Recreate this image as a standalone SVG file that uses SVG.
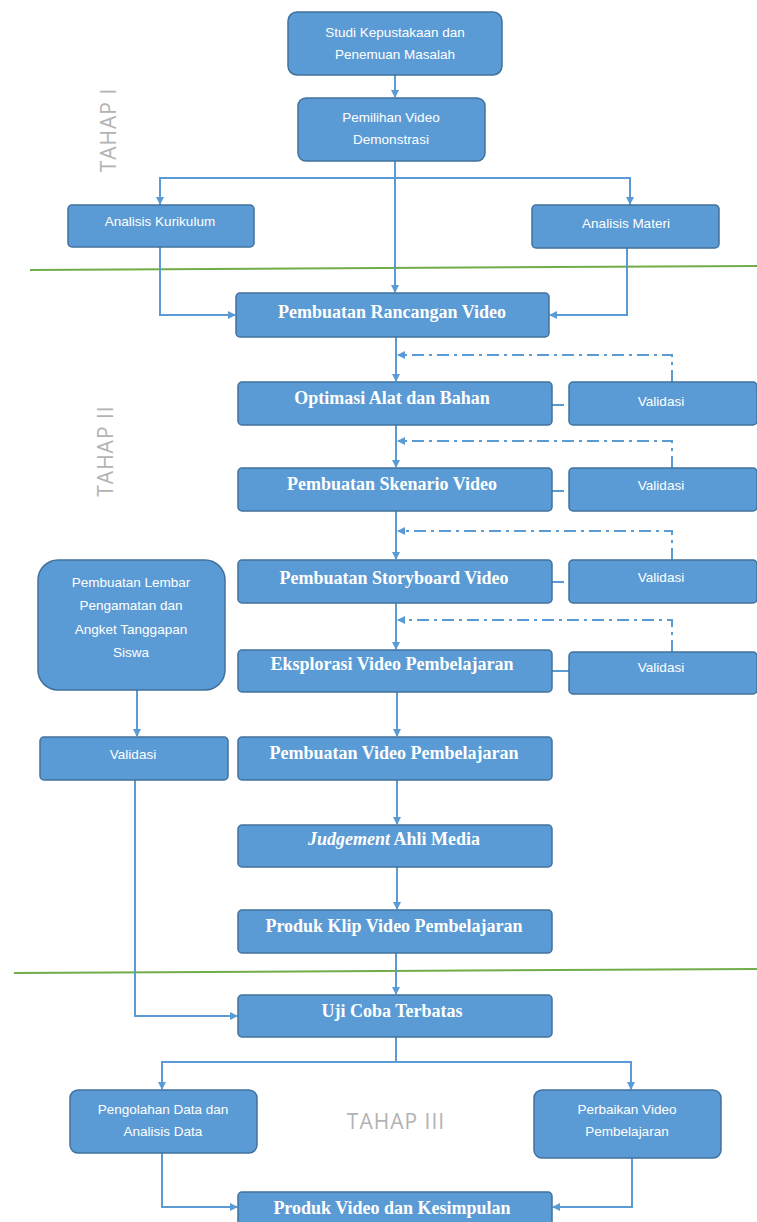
<svg xmlns="http://www.w3.org/2000/svg" width="757" height="1222" viewBox="0 0 757 1222">
<style>
.n{fill:#5b9bd5;stroke:#41719c;stroke-width:1.5}
.s{font-family:"Liberation Sans",Arial,sans-serif;font-size:13.5px;fill:#fff;text-anchor:middle}
.b{font-family:"Liberation Serif","Times New Roman",serif;font-size:18px;font-weight:bold;fill:#fff;text-anchor:middle}
.c{fill:none;stroke:#5b9bd5;stroke-width:2}
.d{fill:none;stroke:#5b9bd5;stroke-width:2;stroke-dasharray:12 5 3 5}
.g{fill:none;stroke:#70ad47;stroke-width:2}
.t{font-family:"Open Sans","Liberation Sans",sans-serif;font-size:21px;fill:#b3b3b3;text-anchor:middle;letter-spacing:1px}
</style>
<defs>
<marker id="a" markerWidth="8" markerHeight="8" refX="7" refY="4" orient="auto" markerUnits="userSpaceOnUse">
<path d="M0,0 L8,4 L0,8 Z" fill="#5b9bd5"/>
</marker>
</defs>
<rect width="757" height="1222" fill="#fff"/>
<g id="dividers">
<line class="g" x1="30" y1="270" x2="757" y2="266"/>
<line class="g" x1="14" y1="973" x2="757" y2="969"/>
</g>
<g id="labels">
<text class="t" transform="translate(116,130) rotate(-90)">TAHAP I</text>
<text class="t" transform="translate(113,451) rotate(-90)">TAHAP II</text>
<text class="t" x="396" y="1129">TAHAP III</text>
</g>
<g id="connectors">
<line class="c" x1="395" y1="75" x2="395" y2="97" marker-end="url(#a)"/>
<line class="c" x1="395" y1="161" x2="395" y2="292" marker-end="url(#a)"/>
<path class="c" d="M160,205 V178 H630 V205" />
<line class="c" x1="160" y1="178" x2="160" y2="204" marker-end="url(#a)"/>
<line class="c" x1="630" y1="178" x2="630" y2="204" marker-end="url(#a)"/>
<path class="c" d="M160,247 V315 H235" marker-end="url(#a)"/>
<path class="c" d="M627,247 V315 H550" marker-end="url(#a)"/>
<line class="c" x1="396" y1="337" x2="396" y2="381" marker-end="url(#a)"/>
<line class="c" x1="396" y1="425" x2="396" y2="467" marker-end="url(#a)"/>
<line class="c" x1="396" y1="511" x2="396" y2="559" marker-end="url(#a)"/>
<line class="c" x1="396" y1="603" x2="396" y2="649" marker-end="url(#a)"/>
<line class="c" x1="397" y1="692" x2="397" y2="736" marker-end="url(#a)"/>
<line class="c" x1="397" y1="780" x2="397" y2="824" marker-end="url(#a)"/>
<line class="c" x1="397" y1="867" x2="397" y2="909" marker-end="url(#a)"/>
<line class="c" x1="396" y1="953" x2="396" y2="994" marker-end="url(#a)"/>
<path class="d" d="M672,382 V355 H398" marker-end="url(#a)"/>
<path class="d" d="M672,468 V441 H398" marker-end="url(#a)"/>
<path class="d" d="M672,560 V531 H398" marker-end="url(#a)"/>
<path class="d" d="M672,652 V620 H398" marker-end="url(#a)"/>
<line class="d" x1="552" y1="405" x2="569" y2="405"/>
<line class="d" x1="552" y1="491" x2="569" y2="491"/>
<line class="d" x1="552" y1="582" x2="569" y2="582"/>
<line class="c" x1="552" y1="671" x2="569" y2="671"/>
<line class="c" x1="137" y1="690" x2="137" y2="736" marker-end="url(#a)"/>
<path class="c" d="M135,780 V1016 H237" marker-end="url(#a)"/>
<line class="c" x1="396" y1="1037" x2="396" y2="1062"/>
<path class="c" d="M162,1089 V1062 H631 V1089"/>
<line class="c" x1="162" y1="1062" x2="162" y2="1089" marker-end="url(#a)"/>
<line class="c" x1="631" y1="1062" x2="631" y2="1089" marker-end="url(#a)"/>
<path class="c" d="M162,1153 V1207 H237" marker-end="url(#a)"/>
<path class="c" d="M632,1158 V1207 H553" marker-end="url(#a)"/>
</g>
<g id="n1"><rect class="n" x="288" y="12" width="214" height="63" rx="9"/><text class="s" x="395" y="37">Studi Kepustakaan dan</text><text class="s" x="395" y="59">Penemuan Masalah</text></g>
<g id="n2"><rect class="n" x="298" y="98" width="187" height="63" rx="8"/><text class="s" x="391" y="122">Pemilihan Video</text><text class="s" x="391" y="144">Demonstrasi</text></g>
<g id="n3"><rect class="n" x="68" y="205" width="186" height="42" rx="4"/><text class="s" x="160" y="226">Analisis Kurikulum</text></g>
<g id="n4"><rect class="n" x="532" y="205" width="187" height="43" rx="4"/><text class="s" x="626" y="228">Analisis Materi</text></g>
<g id="n5"><rect class="n" x="236" y="293" width="313" height="44" rx="4"/><text class="b" x="392" y="318">Pembuatan Rancangan Video</text></g>
<g id="n6"><rect class="n" x="238" y="382" width="314" height="43" rx="4"/><text class="b" x="392" y="404">Optimasi Alat dan Bahan</text></g>
<g id="v1"><rect class="n" x="569" y="382" width="188" height="43" rx="4"/><text class="s" x="661" y="406">Validasi</text></g>
<g id="n7"><rect class="n" x="238" y="468" width="314" height="43" rx="4"/><text class="b" x="392" y="490">Pembuatan Skenario Video</text></g>
<g id="v2"><rect class="n" x="569" y="468" width="188" height="43" rx="4"/><text class="s" x="661" y="490">Validasi</text></g>
<g id="n8"><rect class="n" x="238" y="560" width="314" height="43" rx="4"/><text class="b" x="394" y="584">Pembuatan Storyboard Video</text></g>
<g id="v3"><rect class="n" x="569" y="560" width="188" height="43" rx="4"/><text class="s" x="661" y="582">Validasi</text></g>
<g id="n9"><rect class="n" x="238" y="650" width="314" height="42" rx="4"/><text class="b" x="392" y="670">Eksplorasi Video Pembelajaran</text></g>
<g id="v4"><rect class="n" x="569" y="652" width="188" height="42" rx="4"/><text class="s" x="661" y="672">Validasi</text></g>
<g id="l1"><rect class="n" x="38" y="560" width="187" height="130" rx="20"/><text class="s" x="131" y="587">Pembuatan Lembar</text><text class="s" x="131" y="610">Pengamatan dan</text><text class="s" x="131" y="634">Angket Tanggapan</text><text class="s" x="131" y="657">Siswa</text></g>
<g id="l2"><rect class="n" x="40" y="737" width="188" height="43" rx="4"/><text class="s" x="133" y="759">Validasi</text></g>
<g id="n10"><rect class="n" x="238" y="737" width="314" height="43" rx="4"/><text class="b" x="394" y="759">Pembuatan Video Pembelajaran</text></g>
<g id="n11"><rect class="n" x="238" y="825" width="314" height="42" rx="4"/><text class="b" x="394" y="845"><tspan font-style="italic">Judgement</tspan> Ahli Media</text></g>
<g id="n12"><rect class="n" x="238" y="910" width="314" height="43" rx="4"/><text class="b" x="394" y="932">Produk Klip Video Pembelajaran</text></g>
<g id="n13"><rect class="n" x="238" y="995" width="314" height="42" rx="4"/><text class="b" x="392" y="1017">Uji Coba Terbatas</text></g>
<g id="n14"><rect class="n" x="70" y="1090" width="187" height="63" rx="8"/><text class="s" x="163" y="1114">Pengolahan Data dan</text><text class="s" x="163" y="1136">Analisis Data</text></g>
<g id="n15"><rect class="n" x="534" y="1090" width="187" height="68" rx="8"/><text class="s" x="627" y="1114">Perbaikan Video</text><text class="s" x="627" y="1136">Pembelajaran</text></g>
<g id="n16"><rect class="n" x="238" y="1192" width="314" height="40" rx="4"/><text class="b" x="392" y="1214">Produk Video dan Kesimpulan</text></g>
</svg>
